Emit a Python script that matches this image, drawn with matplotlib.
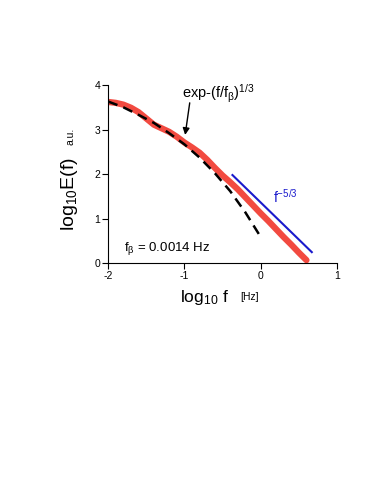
import matplotlib
matplotlib.use("Agg")
import matplotlib.pyplot as plt

plt.rcParams['font.family'] = ['Liberation Sans', 'DejaVu Sans']
plt.rcParams['mathtext.fontset'] = 'custom'
plt.rcParams['mathtext.rm'] = 'Liberation Sans'
plt.rcParams['mathtext.it'] = 'Liberation Sans:italic'
plt.rcParams['mathtext.default'] = 'regular'
plt.rcParams['axes.unicode_minus'] = False

# measured spectrum (red)
spec_x = [-2.0, -1.9, -1.8, -1.7, -1.6, -1.5, -1.4, -1.3, -1.2, -1.1, -1.0, -0.9, -0.8, -0.7, -0.6,
          -0.5, -0.4, -0.3, -0.2, -0.1, 0.0, 0.1, 0.2, 0.3, 0.4, 0.5, 0.6]
spec_y = [3.62, 3.60, 3.56, 3.49, 3.39, 3.25, 3.11, 3.03, 2.95, 2.84, 2.71, 2.60, 2.48, 2.32, 2.14,
          1.97, 1.82, 1.66, 1.48, 1.30, 1.12, 0.95, 0.77, 0.59, 0.42, 0.24, 0.07]

# stretched exponential fit (black dashed)
fit_x = [-2.0, -1.8, -1.6, -1.4, -1.2, -1.0, -0.8, -0.6, -0.4, -0.2, 0.0]
fit_y = [3.63, 3.50, 3.33, 3.15, 2.92, 2.67, 2.37, 2.02, 1.62, 1.14, 0.59]

# f^-5/3 reference line (blue)
ref_x = [-0.37, 0.67]
ref_y = [1.98, 0.25]

fig = plt.figure(figsize=(3.74, 4.88), dpi=100)
ax = fig.add_axes([0.289, 0.4605, 0.612, 0.3653])

ax.plot(spec_x, spec_y, color='#f24a40', lw=4.5, solid_capstyle='round', zorder=2)
ax.plot(fit_x, fit_y, color='black', lw=1.8, ls=(0, (4, 2.5)), zorder=3)
ax.plot(ref_x, ref_y, color='#1a1acc', lw=1.5, zorder=2)

ax.set_xlim(-2, 1)
ax.set_ylim(0, 4)
ax.set_xticks([-2, -1, 0, 1])
ax.set_yticks([0, 1, 2, 3, 4])
for s in ['top', 'right']:
    ax.spines[s].set_visible(False)
for s in ['left', 'bottom']:
    ax.spines[s].set_linewidth(0.8)
ax.tick_params(direction='out', length=4, width=0.8, labelsize=7.5, pad=1.5)

ax.text(-1.03, 3.8, r'exp-(f/f$_{\beta}$)$^{1/3}$', fontsize=10.5, ha='left', va='center')
ax.annotate('', xy=(-0.99, 2.88), xytext=(-0.93, 3.6),
            arrowprops=dict(arrowstyle='-|>', color='black', lw=1.0, mutation_scale=10,
                            shrinkA=0, shrinkB=0))
ax.text(0.16, 1.5, r'f$^{-5/3}$', color='#1a1acc', fontsize=10, ha='left', va='center')
ax.text(-1.79, 0.33, r'f$_{\beta}$ = 0.0014 Hz', fontsize=9.5, ha='left', va='center')

fig.text(0.481, 0.391, r'log$_{10}$ f', fontsize=12.5, ha='left', va='center')
fig.text(0.642, 0.392, '[Hz]', fontsize=7.5, ha='left', va='center')
fig.text(0.187, 0.6035, r'log$_{10}$E(f)', fontsize=14, rotation=90, ha='center', va='center')
fig.text(0.189, 0.721, 'a.u.', fontsize=7.5, rotation=90, ha='center', va='center')

fig.savefig('out.png', dpi=100)
